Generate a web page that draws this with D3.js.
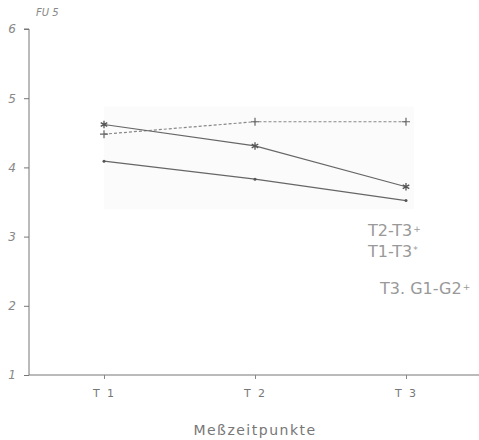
<!DOCTYPE html>
<html>
<head>
<meta charset="utf-8">
<script src="https://cdn.jsdelivr.net/npm/d3@7"></script>
<style>
  body { margin: 0; background: #fff; }
  svg { display: block; }
  text { font-family: "DejaVu Sans", sans-serif; fill: #777; }
</style>
</head>
<body>
<svg id="chart" width="479" height="440"></svg>
<script>
// data
var times = ["T 1", "T 2", "T 3"]
var yTicks = [1, 2, 3, 4, 5, 6]
var starSeries = [4.62, 4.31, 3.72]   // solid, asterisks
var plusSeries = [4.48, 4.66, 4.66]   // dashed, crosses
var dotSeries  = [4.09, 3.83, 3.52]   // solid, small dots
var notes = ["T2-T3", "T1-T3", "T3. G1-G2"]
var noteMarks = ["+", "*", "+"]

var svg = d3.select("#chart")

var x = d3.scalePoint().domain(times).range([104, 406])
var y = d3.scaleLinear().domain([1, 6]).range([375, 29])

// faint scan shading behind the lines
svg.append("rect")
    .attr("x", x("T 1")).attr("y", y(4.88))
    .attr("width", x("T 3") - x("T 1") + 8).attr("height", y(3.4) - y(4.88))
    .attr("fill", "#fbfbfb")

/// y axis
var yAxis = svg.append("g")
    .attr("transform", "translate(29,0)")
    .call(d3.axisLeft(y).tickValues(yTicks).tickSize(5).tickFormat(d3.format("d")))
yAxis.select(".domain").attr("stroke", "#777").attr("d", "M-5," + y(6) + "H0V" + y(1))
yAxis.selectAll(".tick line").attr("stroke", "#777")
yAxis.selectAll(".tick text")
    .attr("x", -13)
    .attr("font-style", "italic")
    .attr("font-size", 12)
    .style("fill", "#888")

/// x axis
var xAxis = svg.append("g")
    .attr("transform", "translate(0," + y(1) + ")")
    .call(d3.axisBottom(x).tickSize(4).tickPadding(10))
xAxis.select(".domain").attr("stroke", "#777").attr("d", "M29,0H479")
xAxis.selectAll(".tick line").attr("stroke", "#888")
xAxis.selectAll(".tick text")
    .attr("font-size", 11)
    .attr("letter-spacing", 2)
    .style("fill", "#777")

svg.append("text")
    .attr("x", 36).attr("y", 16)
    .attr("font-style", "italic")
    .attr("font-size", 10)
    .style("fill", "#888")
    .text("FU 5")

svg.append("text")
    .attr("x", 255).attr("y", 435)
    .attr("text-anchor", "middle")
    .attr("font-size", 14)
    .attr("letter-spacing", 1.5)
    .style("fill", "#777")
    .text("Meßzeitpunkte")

/// lines
var line = d3.line().x((d, i) => x(times[i])).y(d => y(d))

svg.append("path").datum(plusSeries)
    .attr("d", line).attr("fill", "none")
    .attr("stroke", "#888").attr("stroke-width", 1.2)
    .attr("stroke-dasharray", "3,2")
svg.append("path").datum(starSeries)
    .attr("d", line).attr("fill", "none")
    .attr("stroke", "#666").attr("stroke-width", 1.2)
svg.append("path").datum(dotSeries)
    .attr("d", line).attr("fill", "none")
    .attr("stroke", "#666").attr("stroke-width", 1.2)

/// markers
svg.selectAll(".plus").data(plusSeries).enter().append("path")
    .attr("class", "plus")
    .attr("transform", (d, i) => "translate(" + x(times[i]) + "," + y(d) + ")")
    .attr("d", "M-4,0H4M0,-4V4")
    .attr("stroke", "#666").attr("stroke-width", 1.2)

svg.selectAll(".star").data(starSeries).enter().append("path")
    .attr("class", "star")
    .attr("transform", (d, i) => "translate(" + x(times[i]) + "," + y(d) + ")")
    .attr("d", d3.symbol(d3.symbolAsterisk, 40))
    .attr("stroke", "#555").attr("stroke-width", 1.3).attr("fill", "none")

svg.selectAll(".dot").data(dotSeries).enter().append("circle")
    .attr("class", "dot")
    .attr("cx", (d, i) => x(times[i])).attr("cy", d => y(d))
    .attr("r", 1.5).attr("fill", "#555")

/// notes
var notePos = [[368, 236], [368, 257], [380, 294]]
var note = svg.selectAll(".note").data(notes).enter().append("text")
    .attr("class", "note")
    .attr("x", (d, i) => notePos[i][0]).attr("y", (d, i) => notePos[i][1])
    .attr("font-size", 16)
    .style("fill", "#999")
note.append("tspan").text(d => d)
note.append("tspan")
    .attr("dx", 1).attr("dy", -4)
    .attr("font-size", 9)
    .text((d, i) => noteMarks[i])
</script>
</body>
</html>
